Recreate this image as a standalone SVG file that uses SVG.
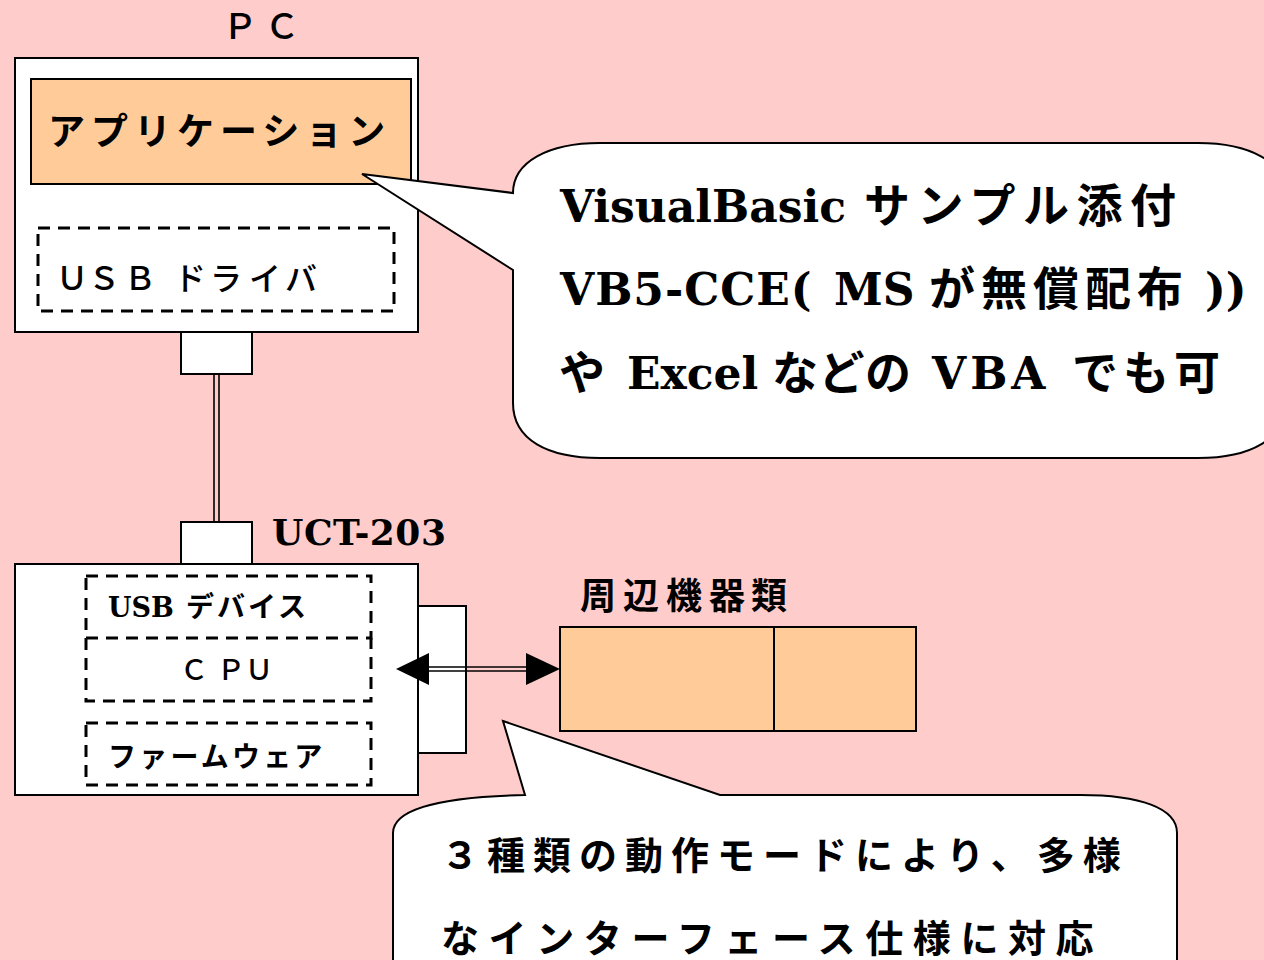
<svg xmlns="http://www.w3.org/2000/svg" width="1264" height="960" viewBox="0 0 1264 960">
<defs>
<style>
.box{fill:#ffffff;stroke:#000000;stroke-width:2}
.orange{fill:#FFCC99;stroke:#000000;stroke-width:2}
.dash{fill:none;stroke:#000000;stroke-width:3;stroke-dasharray:12 8}
.jp{font-family:"Noto Sans CJK JP","Noto Sans",sans-serif;fill:#000000}
.lat{font-family:"DejaVu Serif","Liberation Serif","Noto Sans CJK JP",serif;font-weight:bold;fill:#000000}
.bubble{fill:#ffffff;stroke:#000000;stroke-width:2}
.wire{stroke:#000000;stroke-width:1.6;fill:none}
.head{fill:#000000}
</style>
</defs>
<rect x="0" y="0" width="1264" height="960" fill="#FFCCCC"/>

<g id="pc">
  <rect class="box" x="15" y="58" width="403" height="274"/>
  <text class="jp" font-size="35" font-weight="500" text-anchor="middle" x="240 282" y="39">ＰＣ</text>
</g>

<g id="application">
  <rect class="orange" x="31" y="79" width="380" height="105"/>
  <text class="jp" font-size="37" font-weight="bold" letter-spacing="6" x="48" y="145">アプリケーション</text>
</g>

<g id="usb-driver">
  <rect class="dash" x="38" y="228" width="356" height="83"/>
  <text class="jp" font-size="32" font-weight="500" text-anchor="middle" x="72 104 140 190 226 265 301" y="290">ＵＳＢドライバ</text>
</g>

<g id="pc-usb-port">
  <rect class="box" x="181" y="332" width="71" height="42"/>
</g>

<g id="uct-usb-port">
  <rect class="box" x="181" y="522" width="71" height="42"/>
</g>

<g id="uct-203">
  <rect class="box" x="15" y="564" width="403" height="231"/>
  <text class="lat" font-size="36" letter-spacing="0.5" x="272" y="545">UCT-203</text>
</g>

<g id="uct-side-port">
  <rect class="box" x="418" y="606" width="48" height="147"/>
</g>

<g id="usb-device">
  <rect class="dash" x="86" y="576" width="285" height="62"/>
  <text y="617"><tspan class="lat" font-size="27" x="108">USB</tspan><tspan class="jp" font-size="28" font-weight="bold" text-anchor="middle" x="200 231 262 292">デバイス</tspan></text>
</g>

<g id="cpu">
  <path class="dash" d="M86,638 L86,701 L371,701 L371,638"/>
  <text class="jp" font-size="28" font-weight="500" text-anchor="middle" x="194 231 259" y="680">ＣＰＵ</text>
</g>

<g id="firmware">
  <rect class="dash" x="86" y="723" width="285" height="62"/>
  <text class="jp" font-size="28" font-weight="bold" letter-spacing="3.2" x="108" y="767">ファームウェア</text>
</g>

<g id="peripherals">
  <rect class="orange" x="560" y="627" width="214" height="104"/>
  <rect class="orange" x="774" y="627" width="142" height="104"/>
  <text class="jp" font-size="36" font-weight="bold" text-anchor="middle" x="598 641 684 727 769" y="609">周辺機器類</text>
</g>

<g id="connectors">
  <line class="wire" x1="214" y1="374" x2="214" y2="522"/>
  <line class="wire" x1="219" y1="374" x2="219" y2="522"/>
  <line class="wire" x1="429" y1="667" x2="526" y2="667"/>
  <line class="wire" x1="429" y1="671" x2="526" y2="671"/>
  <polygon class="head" points="396,669 429,653 429,685"/>
  <polygon class="head" points="560,669 526,653 526,685"/>
</g>

<g id="callout-vb">
  <path class="bubble" d="M362,174 L513,193 C513,162 548,143 600,143 L1198,143 C1250,143 1285,162 1285,193 L1285,403 C1285,440 1250,458 1198,458 L600,458 C548,458 513,440 513,403 L513,270 Z"/>
  <text y="222"><tspan class="lat" font-size="44" x="560">VisualBasic</tspan><tspan class="jp" font-size="46" font-weight="bold" letter-spacing="7.5" x="864">サンプル添付</tspan></text>
  <text y="305"><tspan class="lat" font-size="44" letter-spacing="1" x="560">VB5-CCE(</tspan><tspan class="lat" font-size="44" x="834">MS</tspan><tspan class="jp" font-size="46" font-weight="bold" letter-spacing="6" x="929">が無償配布</tspan><tspan class="lat" font-size="44" x="1205">))</tspan></text>
  <text y="389"><tspan class="jp" font-size="46" font-weight="bold" x="559">や</tspan><tspan class="lat" font-size="44" x="627">Excel</tspan><tspan class="jp" font-size="46" font-weight="bold" letter-spacing="0.5" x="772">などの</tspan><tspan class="lat" font-size="44" letter-spacing="4" x="932">VBA</tspan><tspan class="jp" font-size="46" font-weight="bold" letter-spacing="5" x="1072">でも可</tspan></text>
</g>

<g id="callout-modes">
  <path class="bubble" d="M503,721 L720,795 L1080,795 C1140,795 1177,808 1177,833 L1177,972 L393,972 L393,833 C393,812 430,797 525,795 Z"/>
  <text class="jp" font-size="38" font-weight="bold" letter-spacing="8" x="441" y="869">３種類の動作モードにより、多様</text>
  <text class="jp" font-size="38" font-weight="bold" letter-spacing="9.6" x="441" y="952">なインターフェース仕様に対応</text>
</g>
</svg>
